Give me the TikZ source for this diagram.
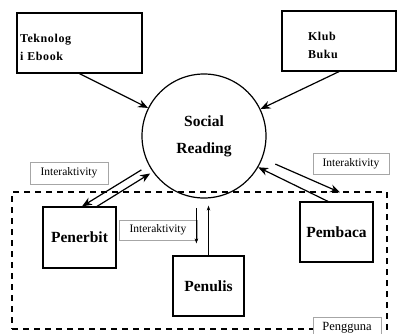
\documentclass[tikz,border=0pt]{standalone}
\usepackage{fontspec}
\setmainfont{Liberation Serif}
\usetikzlibrary{arrows.meta}

\begin{document}
\begin{tikzpicture}[x=1pt,y=-1pt,
		box/.style={draw,line width=1.2pt,inner sep=0pt,font=\fontsize{15.5}{17}\selectfont\bfseries},
		srcbox/.style={draw,line width=1.2pt,align=left,font=\fontsize{12}{17.5}\selectfont\bfseries\addfontfeature{LetterSpace=5}},
		tag/.style={draw=gray!70,line width=0.6pt,inner sep=0pt,font=\fontsize{11.5}{13}\selectfont},
		conn/.style={line width=1.2pt,-{Stealth[length=10pt,width=8pt]}},
		thinconn/.style={line width=0.6pt,-{Stealth[length=5pt,width=3.5pt]}}]
		\useasboundingbox (0,0) rectangle (398,333);
		
		% sources
		\node[srcbox,inner xsep=3pt,text width=119pt,minimum height=60pt] (tek) at (79.5,43) {\rule{0pt}{17pt}Teknolog\\i Ebook};
		\node[srcbox,inner xsep=26pt,text width=62pt,minimum height=60pt] (klub) at (339,41) {\rule{0pt}{17pt}Klub\\Buku};
		
		% social reading
		\node[draw,circle,line width=1.2pt,minimum size=124pt,align=center,font=\fontsize{15.5}{27}\selectfont\bfseries] (sr) at (204,136) {Social\\Reading};
		
		% users
		\node[draw,line width=1.6pt,dash pattern=on 6pt off 5pt,minimum width=375pt,minimum height=137pt] (grp) at (199.5,260.5) {};
		\node[box,minimum width=73pt,minimum height=61pt] (pnb) at (79.5,237.5) {Penerbit};
		\node[box,minimum width=71pt,minimum height=60pt] (pnl) at (208.5,286) {Penulis};
		\node[box,minimum width=73pt,minimum height=60pt] (pmb) at (336.5,232) {Pembaca};
		
		% labels
		\node[tag,minimum width=78pt,minimum height=22pt] (ia1) at (69,173) {Interaktivity};
		\node[tag,fill=white,minimum width=78pt,minimum height=20pt] (ia2) at (158,230) {Interaktivity};
		\node[tag,minimum width=76pt,minimum height=21pt] (ia3) at (351,163.5) {Interaktivity};
		\node[tag,fill=white,minimum width=68pt,minimum height=21pt,font=\fontsize{12.5}{14}\selectfont] (pgn) at (347,327.5) {Pengguna};
		
		\draw[conn] (tek.south) -- (sr);
		\draw[conn] (klub.south) -- (sr);
		
		\draw[conn,shorten <=8.6pt] (sr.208) -- ([xshift=2.5pt]pnb.north);
		\draw[conn,shorten >=3pt] ([xshift=17.5pt]pnb.north) -- (sr.215);
		
		\draw[conn,shorten <=14pt] (sr.339) -- ([shift={(3.5pt,9pt)}]pmb.north);
		\draw[conn] ([xshift=-8.5pt]pmb.north) -- (sr.330);
		
		\draw[thinconn,shorten <=10pt,shorten >=12pt] (sr.263) -- (sr.263 |- pnl.north);
		\draw[thinconn,shorten >=7pt] (pnl.north) -- (pnl.north |- sr.south);
	\end{tikzpicture}
\end{document}
